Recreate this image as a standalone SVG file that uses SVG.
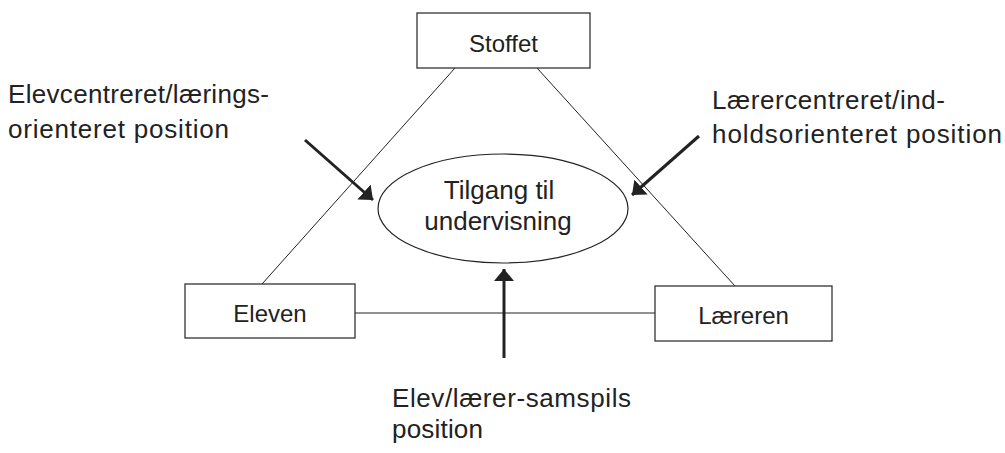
<svg xmlns="http://www.w3.org/2000/svg" width="1005" height="453" viewBox="0 0 1005 453">
<defs>
<style>
.box{fill:#fff;stroke:#333;stroke-width:1.3}
.edge{stroke:#222;stroke-width:1;fill:none}
.arr{stroke:#222;stroke-width:3;fill:none}
.nt{font-family:"Liberation Sans",Arial,sans-serif;font-size:24px;fill:#222;text-anchor:middle}
.lt{font-family:"Liberation Sans",Arial,sans-serif;font-size:26px;fill:#222}
</style>
<marker id="ah" markerUnits="userSpaceOnUse" markerWidth="14" markerHeight="22" viewBox="0 -11 14 22" refX="12" refY="0" orient="auto">
<path d="M0,-10 L12,0 L0,10 z" fill="#222"/>
</marker>
</defs>
<rect width="1005" height="453" fill="#fff"/>
<g id="connectors">
<line class="edge" x1="455" y1="68" x2="262" y2="284"/>
<line class="edge" x1="537" y1="68" x2="735" y2="286"/>
<line class="edge" x1="355" y1="313" x2="655" y2="313"/>
<line class="arr" x1="305" y1="140" x2="373" y2="200" marker-end="url(#ah)"/>
<line class="arr" x1="699" y1="136" x2="632" y2="195" marker-end="url(#ah)"/>
<line class="arr" x1="504" y1="358" x2="504" y2="269" marker-end="url(#ah)"/>
</g>
<g id="stoffet">
<rect class="box" x="417" y="13" width="173" height="55"/>
<text class="nt" x="503.5" y="52">Stoffet</text>
</g>
<g id="eleven">
<rect class="box" x="185" y="284" width="170" height="54"/>
<text class="nt" x="270" y="322">Eleven</text>
</g>
<g id="laereren">
<rect class="box" x="655" y="286" width="177" height="55"/>
<text class="nt" x="743.5" y="324">Læreren</text>
</g>
<g id="tilgang">
<ellipse cx="503" cy="208.5" rx="125" ry="54.5" fill="#fff" stroke="#222" stroke-width="1.2"/>
<text class="nt" x="499" y="199" style="font-size:26px">Tilgang til</text>
<text class="nt" x="498" y="230" style="font-size:26px">undervisning</text>
</g>
<g id="label-elevcentreret">
<text class="lt" x="8" y="103" textLength="261" lengthAdjust="spacing">Elevcentreret/lærings-</text>
<text class="lt" x="8" y="138" textLength="221" lengthAdjust="spacing">orienteret position</text>
</g>
<g id="label-laerercentreret">
<text class="lt" x="712" y="109" textLength="233" lengthAdjust="spacing">Lærercentreret/ind-</text>
<text class="lt" x="712" y="143" textLength="290" lengthAdjust="spacing">holdsorienteret position</text>
</g>
<g id="label-samspil">
<text class="lt" x="392" y="407" textLength="239" lengthAdjust="spacing">Elev/lærer-samspils</text>
<text class="lt" x="392" y="438" textLength="91" lengthAdjust="spacing">position</text>
</g>
</svg>
